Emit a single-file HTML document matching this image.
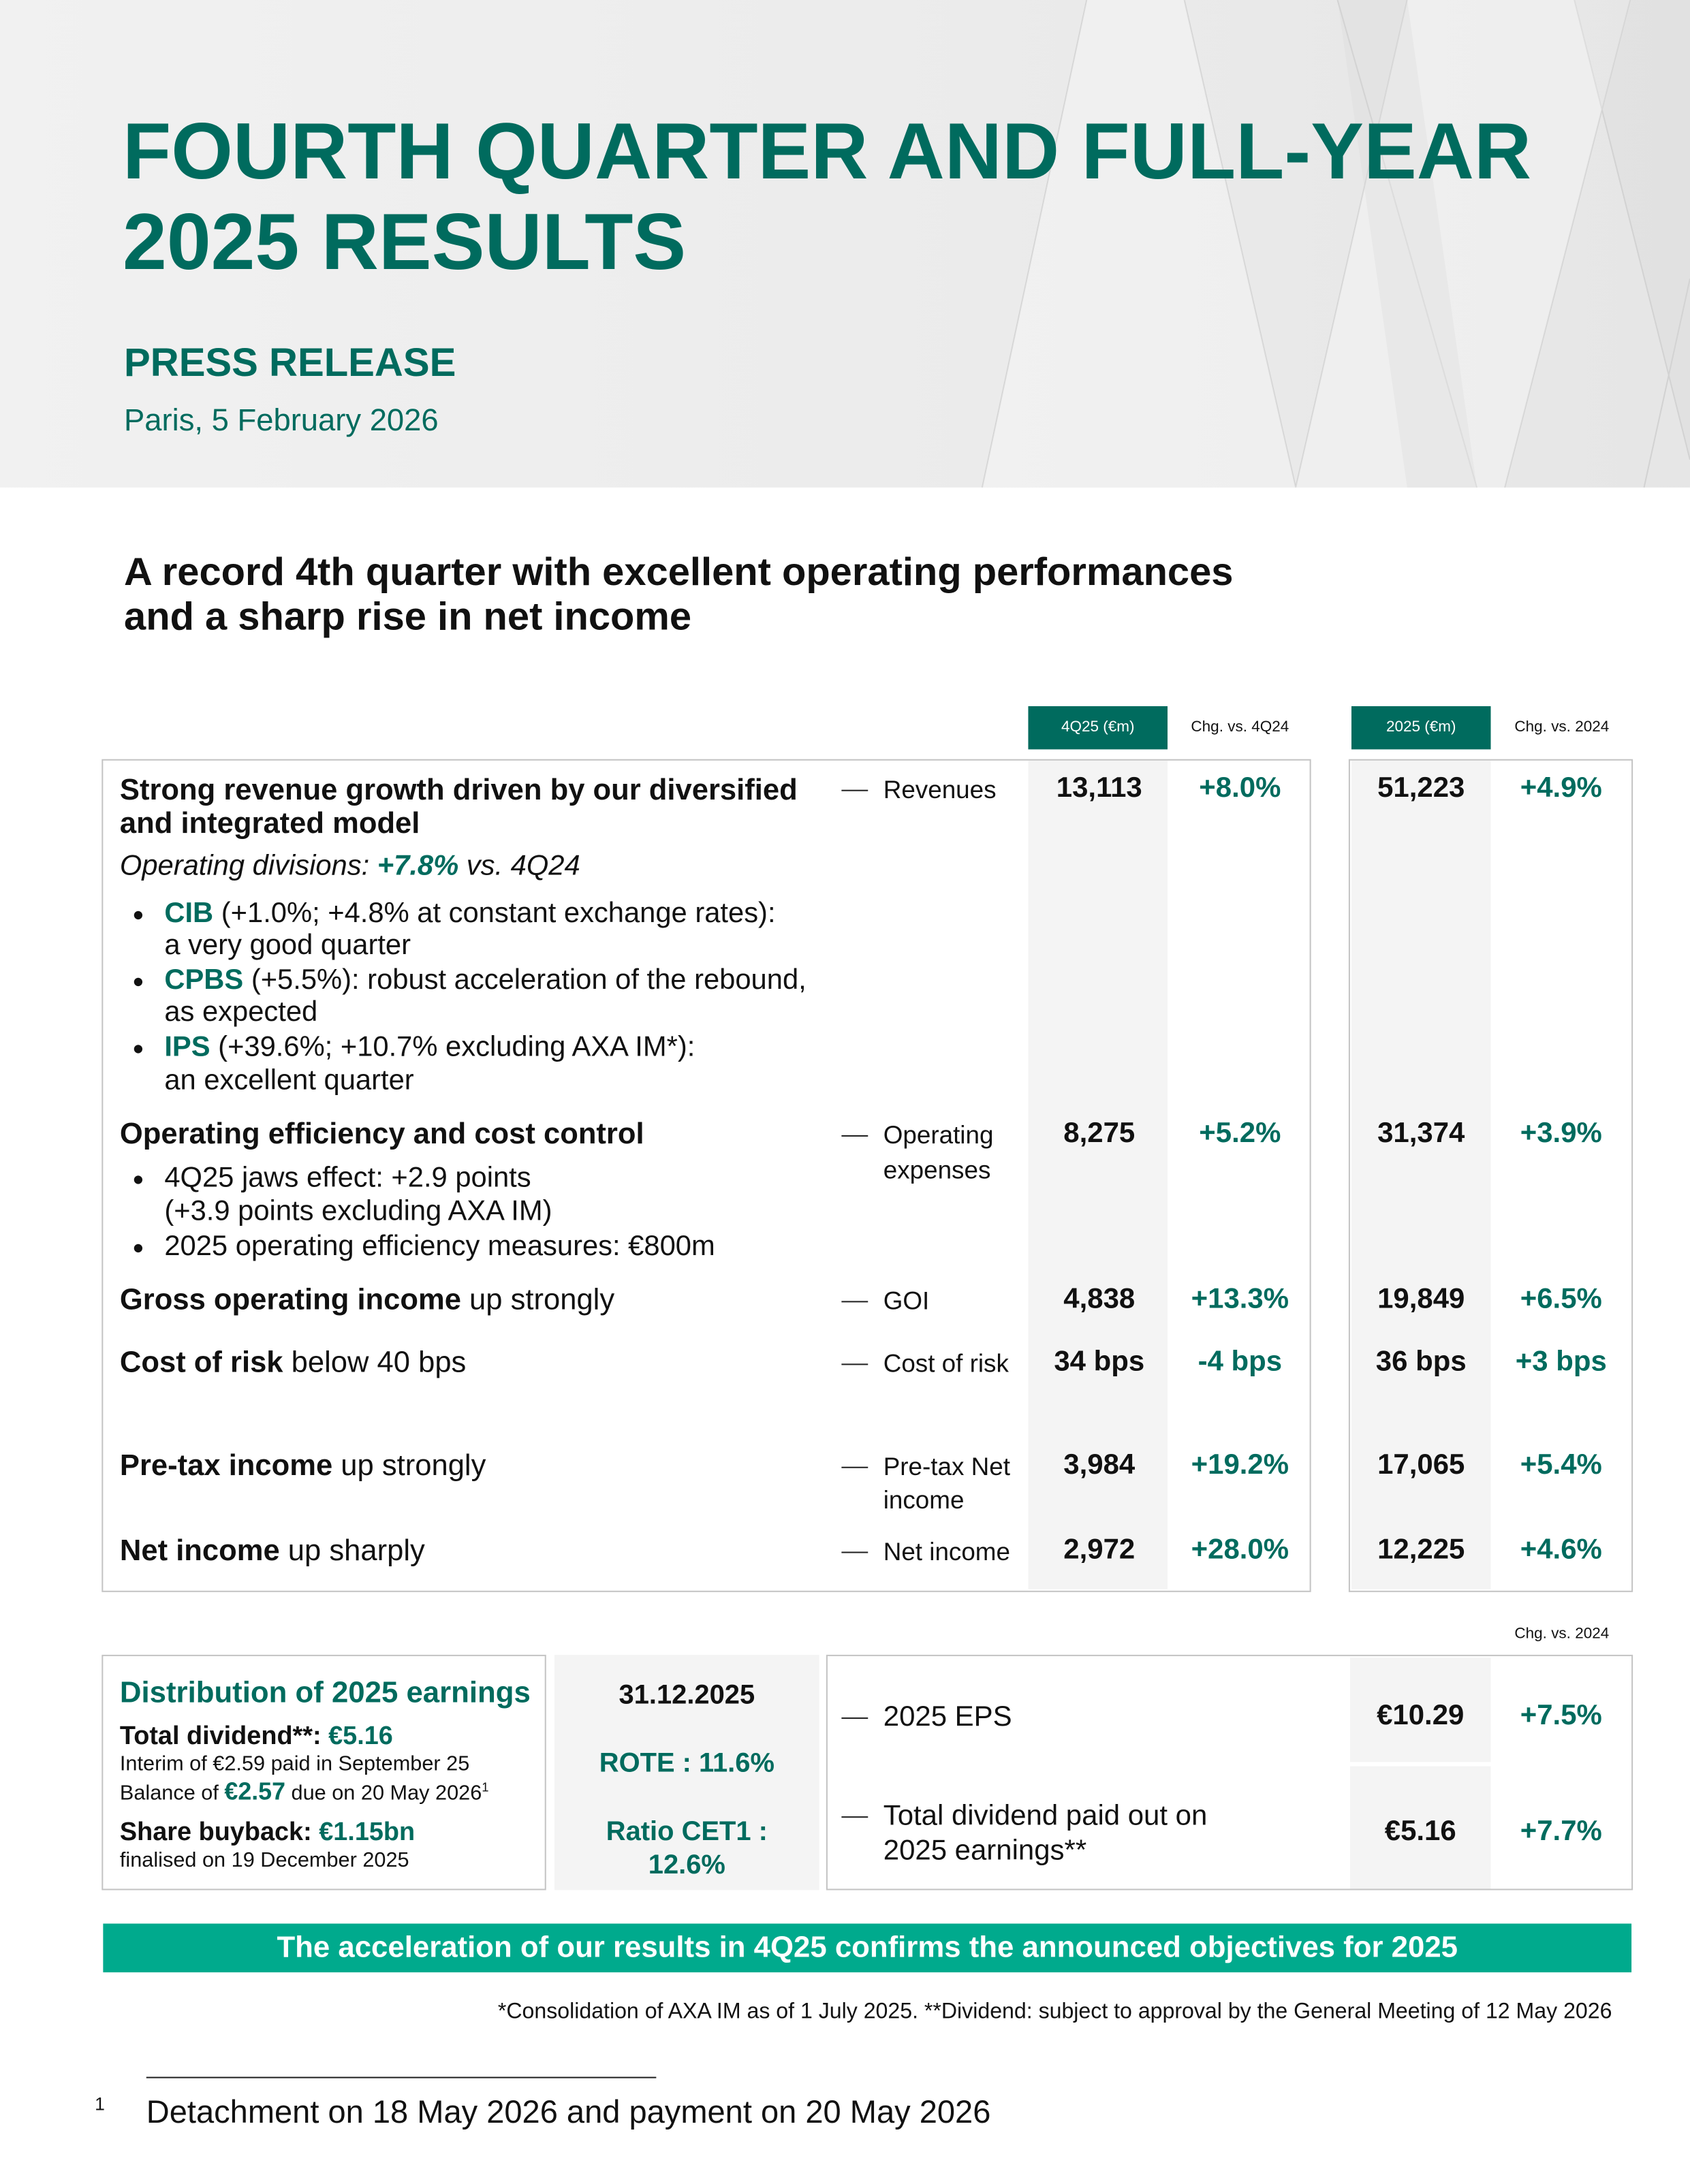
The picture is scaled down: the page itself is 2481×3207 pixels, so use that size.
<!DOCTYPE html>
<html><head><meta charset="utf-8"><style>
html,body{margin:0;padding:0;background:#fff;}
body{width:2481px;height:3207px;overflow:hidden;position:relative;}
#w{position:absolute;left:0;top:0;width:1213px;height:1568px;transform:scale(2.04534);transform-origin:0 0;font-family:"Liberation Sans",Arial,sans-serif;color:#111;}
#w div{position:absolute;white-space:nowrap;line-height:1.15;}
.g{color:#006b5e;}
.b{font-weight:bold;}
.t{font-size:20.4px;}
.h{font-size:21.3px;}
.num{font-size:20.5px;font-weight:bold;text-align:center;}
.box{border:1.5px solid #c4c4c4;box-sizing:border-box;}
.gray{background:#f4f4f4;}
.dash{width:19px;height:1px;background:#222;}
.bul{font-size:14px;}
</style></head><body><div id="w">
<div style="left:0;top:0;width:1213px;height:350px;background:linear-gradient(90deg,#f1f1f1 0%,#ececec 50%,#e6e6e6 100%);overflow:hidden;">
<svg width="1213" height="350" style="position:absolute;left:0;top:0">
<g fill="none" stroke="#d2d2d2" stroke-width="1">
<path d="M705 350 L780 0 M850 0 L930 350 M960 0 L1060 350 M1080 350 L1170 0 M1130 0 L1213 330 M930 350 L1010 0 M1180 350 L1213 200"/>
</g>
<g fill="#ffffff" opacity="0.3"><polygon points="780,0 850,0 930,350 705,350"/><polygon points="1010,0 1170,0 1080,350 930,350"/></g>
<g fill="#d8d8d8" opacity="0.3"><polygon points="1130,0 1213,0 1213,330"/><polygon points="960,0 1010,0 1060,350 1010,350"/></g>
</svg></div>
<div class="g b" style="left:88px;top:77px;font-size:57px;">FOURTH QUARTER AND FULL-YEAR</div>
<div class="g b" style="left:88px;top:142px;font-size:57px;">2025 RESULTS</div>
<div class="g b" style="left:89px;top:245px;font-size:28.4px;">PRESS RELEASE</div>
<div class="g" style="left:89px;top:289px;font-size:22.2px;">Paris, 5 February 2026</div>

<div class="b" style="left:89px;top:394px;font-size:28.3px;">A record 4th quarter with excellent operating performances</div>
<div class="b" style="left:89px;top:426px;font-size:28.3px;">and a sharp rise in net income</div>

<div style="left:738px;top:507px;width:100px;height:31px;background:#006b5e;color:#fff;font-size:11px;text-align:center;line-height:31px;">4Q25 (€m)</div>
<div style="left:840px;top:507px;width:100px;height:31px;font-size:11px;text-align:center;line-height:31px;">Chg. vs. 4Q24</div>
<div style="left:970px;top:507px;width:100px;height:31px;background:#006b5e;color:#fff;font-size:11px;text-align:center;line-height:31px;">2025 (€m)</div>
<div style="left:1071px;top:507px;width:100px;height:31px;font-size:11px;text-align:center;line-height:31px;">Chg. vs. 2024</div>

<div class="gray" style="left:738px;top:546px;width:100px;height:595px;"></div>
<div class="gray" style="left:970px;top:546px;width:100px;height:595px;"></div>
<div class="box" style="left:73px;top:545px;width:868px;height:598px;"></div>
<div class="box" style="left:968px;top:545px;width:204px;height:598px;"></div>

<div class="h b" style="left:86px;top:555px;">Strong revenue growth driven by our diversified</div>
<div class="h b" style="left:86px;top:579px;">and integrated model</div>
<div class="t" style="left:86px;top:611px;font-style:italic;">Operating divisions: <span class="g b">+7.8%</span> vs. 4Q24</div>
<div class="bul" style="left:95px;top:648px;">●</div>
<div class="t" style="left:118px;top:645px;"><span class="g b">CIB</span> (+1.0%; +4.8% at constant exchange rates):</div>
<div class="t" style="left:118px;top:668px;">a very good quarter</div>
<div class="bul" style="left:95px;top:696px;">●</div>
<div class="t" style="left:118px;top:693px;"><span class="g b">CPBS</span> (+5.5%): robust acceleration of the rebound,</div>
<div class="t" style="left:118px;top:716px;">as expected</div>
<div class="bul" style="left:95px;top:744px;">●</div>
<div class="t" style="left:118px;top:741px;"><span class="g b">IPS</span> (+39.6%; +10.7% excluding AXA IM*):</div>
<div class="t" style="left:118px;top:765px;">an excellent quarter</div>

<div class="h b" style="left:86px;top:802px;">Operating efficiency and cost control</div>
<div class="bul" style="left:95px;top:838px;">●</div>
<div class="t" style="left:118px;top:835px;">4Q25 jaws effect: +2.9 points</div>
<div class="t" style="left:118px;top:859px;">(+3.9 points excluding AXA IM)</div>
<div class="bul" style="left:95px;top:887px;">●</div>
<div class="t" style="left:118px;top:884px;">2025 operating efficiency measures: €800m</div>

<div class="h" style="left:86px;top:921px;"><b>Gross operating income</b> up strongly</div>
<div class="h" style="left:86px;top:966px;"><b>Cost of risk</b> below 40 bps</div>
<div class="h" style="left:86px;top:1040px;"><b>Pre-tax income</b> up strongly</div>
<div class="h" style="left:86px;top:1101px;"><b>Net income</b> up sharply</div>

<div class="dash" style="left:604px;top:567px;"></div><div style="left:634px;top:557px;font-size:18px;">Revenues</div>
<div class="dash" style="left:604px;top:815px;"></div><div style="left:634px;top:805px;font-size:18px;">Operating</div><div style="left:634px;top:830px;font-size:18px;">expenses</div>
<div class="dash" style="left:604px;top:934px;"></div><div style="left:634px;top:924px;font-size:18px;">GOI</div>
<div class="dash" style="left:604px;top:979px;"></div><div style="left:634px;top:969px;font-size:18px;">Cost of risk</div>
<div class="dash" style="left:604px;top:1053px;"></div><div style="left:634px;top:1043px;font-size:18px;">Pre-tax Net</div><div style="left:634px;top:1067px;font-size:18px;">income</div>
<div class="dash" style="left:604px;top:1114px;"></div><div style="left:634px;top:1104px;font-size:18px;">Net income</div>

<div class="num" style="left:738px;width:102px;top:554px;">13,113</div>
<div class="num g" style="left:840px;width:100px;top:554px;">+8.0%</div>
<div class="num" style="left:970px;width:100px;top:554px;">51,223</div>
<div class="num g" style="left:1070px;width:101px;top:554px;">+4.9%</div>

<div class="num" style="left:738px;width:102px;top:802px;">8,275</div>
<div class="num g" style="left:840px;width:100px;top:802px;">+5.2%</div>
<div class="num" style="left:970px;width:100px;top:802px;">31,374</div>
<div class="num g" style="left:1070px;width:101px;top:802px;">+3.9%</div>

<div class="num" style="left:738px;width:102px;top:921px;">4,838</div>
<div class="num g" style="left:840px;width:100px;top:921px;">+13.3%</div>
<div class="num" style="left:970px;width:100px;top:921px;">19,849</div>
<div class="num g" style="left:1070px;width:101px;top:921px;">+6.5%</div>

<div class="num" style="left:738px;width:102px;top:966px;">34 bps</div>
<div class="num g" style="left:840px;width:100px;top:966px;">-4 bps</div>
<div class="num" style="left:970px;width:100px;top:966px;">36 bps</div>
<div class="num g" style="left:1070px;width:101px;top:966px;">+3 bps</div>

<div class="num" style="left:738px;width:102px;top:1040px;">3,984</div>
<div class="num g" style="left:840px;width:100px;top:1040px;">+19.2%</div>
<div class="num" style="left:970px;width:100px;top:1040px;">17,065</div>
<div class="num g" style="left:1070px;width:101px;top:1040px;">+5.4%</div>

<div class="num" style="left:738px;width:102px;top:1101px;">2,972</div>
<div class="num g" style="left:840px;width:100px;top:1101px;">+28.0%</div>
<div class="num" style="left:970px;width:100px;top:1101px;">12,225</div>
<div class="num g" style="left:1070px;width:101px;top:1101px;">+4.6%</div>

<div style="left:1071px;top:1167px;width:100px;font-size:11px;text-align:center;">Chg. vs. 2024</div>
<div class="box" style="left:73px;top:1188px;width:319px;height:169px;"></div>
<div class="gray" style="left:398px;top:1188px;width:190px;height:169px;"></div>
<div class="gray" style="left:969px;top:1190px;width:101px;height:75px;"></div>
<div class="gray" style="left:969px;top:1268px;width:101px;height:88px;"></div>
<div class="box" style="left:593px;top:1188px;width:579px;height:169px;"></div>

<div class="g b" style="left:86px;top:1203px;font-size:21.4px;">Distribution of 2025 earnings</div>
<div class="b" style="left:86px;top:1235px;font-size:18.5px;">Total dividend**: <span class="g">€5.16</span></div>
<div style="left:86px;top:1258px;font-size:15px;">Interim of €2.59 paid in September 25</div>
<div style="left:86px;top:1276px;font-size:15px;">Balance of <b class="g" style="font-size:17.5px">€2.57</b> due on 20 May 2026<sup style="font-size:9px">1</sup></div>
<div class="b" style="left:86px;top:1304px;font-size:18.5px;">Share buyback: <span class="g">€1.15bn</span></div>
<div style="left:86px;top:1327px;font-size:15px;">finalised on 19 December 2025</div>

<div class="b" style="left:398px;width:190px;text-align:center;top:1206px;font-size:19.5px;">31.12.2025</div>
<div class="b g" style="left:398px;width:190px;text-align:center;top:1255px;font-size:19.5px;">ROTE : 11.6%</div>
<div class="b g" style="left:398px;width:190px;text-align:center;top:1304px;font-size:19.5px;">Ratio CET1 :</div>
<div class="b g" style="left:398px;width:190px;text-align:center;top:1328px;font-size:19.5px;">12.6%</div>

<div class="dash" style="left:604px;top:1233px;"></div><div style="left:634px;top:1221px;font-size:20.5px;">2025 EPS</div>
<div class="dash" style="left:604px;top:1304px;"></div><div style="left:634px;top:1292px;font-size:20.5px;">Total dividend paid out on</div><div style="left:634px;top:1317px;font-size:20.5px;">2025 earnings**</div>
<div class="num" style="left:969px;width:101px;top:1220px;">€10.29</div>
<div class="num g" style="left:1070px;width:101px;top:1220px;">+7.5%</div>
<div class="num" style="left:969px;width:101px;top:1303px;">€5.16</div>
<div class="num g" style="left:1070px;width:101px;top:1303px;">+7.7%</div>

<div style="left:74px;top:1381px;width:1097px;height:35px;background:#00aa8d;color:#fff;font-weight:bold;font-size:21.4px;text-align:center;line-height:35px;">The acceleration of our results in 4Q25 confirms the announced objectives for 2025</div>

<div style="left:200px;width:957px;text-align:right;top:1436px;font-size:15.7px;">*Consolidation of AXA IM as of 1 July 2025. **Dividend: subject to approval by the General Meeting of 12 May 2026</div>

<div style="left:105px;top:1491px;width:366px;height:1px;background:#222;"></div>
<div style="left:68px;top:1504px;font-size:13px;">1</div>
<div style="left:105px;top:1503px;font-size:23px;">Detachment on 18 May 2026 and payment on 20 May 2026</div>
</div></body></html>
